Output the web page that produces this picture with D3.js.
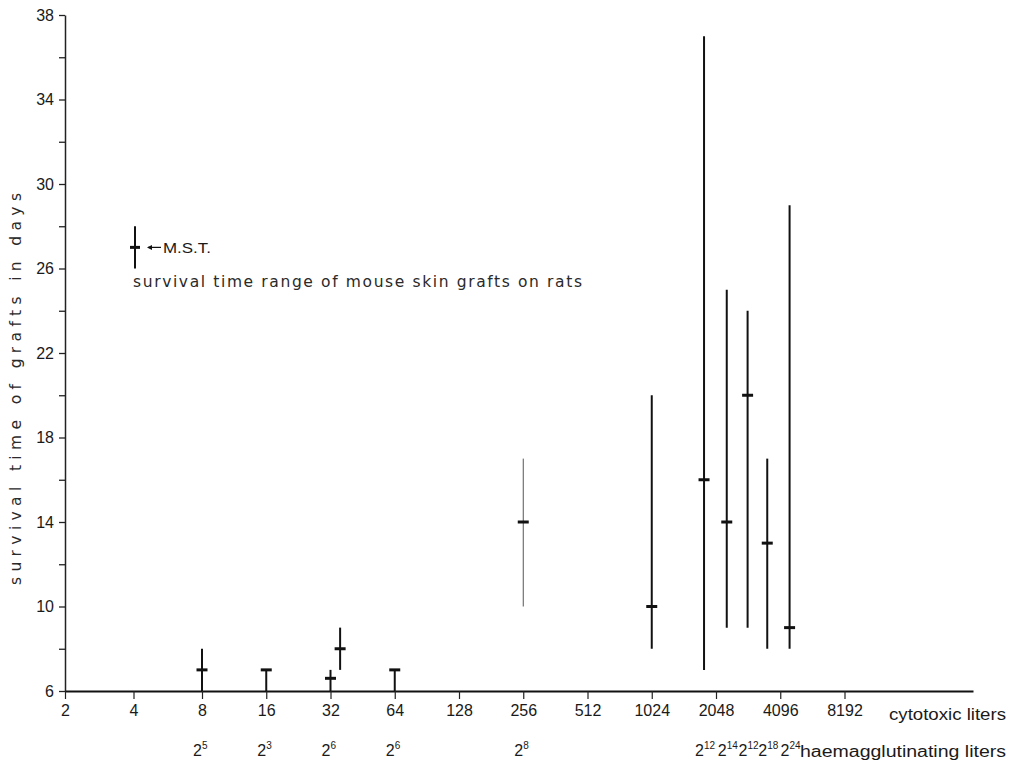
<!DOCTYPE html>
<html>
<head>
<meta charset="utf-8">
<script src="https://cdn.jsdelivr.net/npm/d3@7"></script>
<style>
  body { margin: 0; background: white; }
  text { font-family: "Liberation Sans", Arial, sans-serif; fill: #1a1a1a; }
  .words { font-family: "DejaVu Sans", sans-serif; fill: #2a2a2a; }
</style>
</head>
<body>
<script>
// cytotoxic titer ticks (x axis, log2)
var cytoTicks = [2, 4, 8, 16, 32, 64, 128, 256, 512, 1024, 2048, 4096, 8192];
// y ticks
var dayTicks = [6, 8, 10, 12, 14, 16, 18, 20, 22, 24, 26, 28, 30, 32, 34, 36, 38];

// one entry per group of grafts
var titers = [8, 16, 32, 35.5, 64, 256, 1024, 1800, 2300, 2880, 3560, 4530];
var mst    = [7, 7, 6.6, 8, 7, 14, 10, 16, 14, 20, 13, 9];
var lowDays  = [6, 6, 6, 7, 6, 10, 8, 7, 9, 9, 8, 8];
var highDays = [8, 7, 7, 9, 7, 17, 20, 37, 25, 24, 17, 29];

// haemagglutinating titers (written as powers of 2)
var haemTiters = [8, 16, 32, 64, 256, 1800, 2300, 2880, 3560, 4530];
var haemExp    = [5, 3, 6, 6, 8, 12, 14, 12, 18, 24];

var width = 1016, height = 765;

var svg = d3.select('body').append('svg')
  .attr('width', width)
  .attr('height', height)
  .style('background', 'white');

// Scales (hand drawn axis: first two octaves are a bit narrower)
var xScale = d3.scaleLog().base(2)
  .domain([2, 8, 32768])
  .range([65, 202, 973]);

var yScale = d3.scaleLinear()
  .domain([6, 38])
  .range([691, 15]);

// Y axis
var yAxis = svg.append('g')
  .attr('transform', 'translate(65,0)')
  .call(d3.axisLeft(yScale)
    .tickValues(dayTicks)
    .tickSize(6)
    .tickSizeOuter(0)
    .tickPadding(5)
    .tickFormat(function(d) { return (d - 6) % 4 === 0 ? d : ''; }));
yAxis.select('.domain').attr('stroke', '#222').attr('stroke-width', 1.5);
yAxis.selectAll('.tick line').attr('stroke', '#222').attr('stroke-width', 1.3);
yAxis.selectAll('.tick text').style('font-size', '16px').attr('fill', '#1a1a1a');

// X axis
var xAxis = svg.append('g')
  .attr('transform', 'translate(0,691)')
  .call(d3.axisBottom(xScale)
    .tickValues(cytoTicks)
    .tickSize(8)
    .tickSizeOuter(0)
    .tickPadding(6)
    .tickFormat(function(d) { return d; }));
xAxis.select('.domain').attr('stroke', '#111').attr('stroke-width', 2);
xAxis.selectAll('.tick line').attr('stroke', '#222').attr('stroke-width', 1.2);
xAxis.selectAll('.tick text').style('font-size', '16px').attr('fill', '#1a1a1a');

svg.append('text')
  .attr('x', 889).attr('y', 720)
  .attr('textLength', 117).attr('lengthAdjust', 'spacingAndGlyphs')
  .style('font-size', '16px')
  .text('cytotoxic liters');

// Y label
svg.append('text')
  .attr('class', 'words')
  .attr('transform', 'translate(21,389) rotate(-90)')
  .attr('text-anchor', 'middle')
  .attr('textLength', 392).attr('lengthAdjust', 'spacing')
  .style('font-size', '15.5px')
  .text('survival time of grafts in days');

// Haemagglutinating titers row
var haem = svg.selectAll('.haem')
  .data(haemTiters)
  .enter()
  .append('text')
  .attr('class', 'haem')
  .attr('x', function(d) { return xScale(d) - 9; })
  .attr('y', 756)
  .style('font-size', '16px');
haem.append('tspan').text('2');
haem.append('tspan')
  .attr('dy', -7)
  .style('font-size', '10px')
  .text(function(d, i) { return haemExp[i]; });

svg.append('text')
  .attr('x', 800).attr('y', 757)
  .attr('textLength', 206).attr('lengthAdjust', 'spacingAndGlyphs')
  .style('font-size', '16px')
  .text('haemagglutinating liters');

// Range lines
svg.selectAll('.range')
  .data(titers)
  .enter()
  .append('line')
  .attr('class', 'range')
  .attr('x1', function(d) { return xScale(d); })
  .attr('x2', function(d) { return xScale(d); })
  .attr('y1', function(d, i) { return yScale(lowDays[i]); })
  .attr('y2', function(d, i) { return yScale(highDays[i]); })
  .attr('stroke', function(d) { return d === 256 ? '#555' : '#111'; })
  .attr('stroke-width', function(d) { return d === 256 ? 1 : 2; });

// MST markers
svg.selectAll('.mst')
  .data(titers)
  .enter()
  .append('line')
  .attr('class', 'mst')
  .attr('x1', function(d) { return xScale(d) - 5.5; })
  .attr('x2', function(d) { return xScale(d) + 5.5; })
  .attr('y1', function(d, i) { return yScale(mst[i]); })
  .attr('y2', function(d, i) { return yScale(mst[i]); })
  .attr('stroke', '#111')
  .attr('stroke-width', 3);

// Handmade legend
var legX = 135;
svg.append('line')
  .attr('x1', legX).attr('x2', legX)
  .attr('y1', yScale(28)).attr('y2', yScale(26))
  .attr('stroke', '#111').attr('stroke-width', 2);
svg.append('line')
  .attr('x1', legX - 5).attr('x2', legX + 5)
  .attr('y1', yScale(27)).attr('y2', yScale(27))
  .attr('stroke', '#111').attr('stroke-width', 3);
svg.append('line')
  .attr('x1', 148).attr('x2', 161)
  .attr('y1', yScale(27)).attr('y2', yScale(27))
  .attr('stroke', '#111').attr('stroke-width', 1.2);
svg.append('path')
  .attr('d', 'M147,' + yScale(27) + ' l5,-2.5 l0,5 z')
  .attr('fill', '#111');
svg.append('text')
  .attr('x', 163).attr('y', 253)
  .attr('textLength', 48).attr('lengthAdjust', 'spacingAndGlyphs')
  .style('font-size', '15px')
  .text('M.S.T.');
svg.append('text')
  .attr('class', 'words')
  .attr('x', 133).attr('y', 287)
  .attr('textLength', 449).attr('lengthAdjust', 'spacing')
  .style('font-size', '15.5px')
  .text('survival time range of mouse skin grafts on rats');
</script>
</body>
</html>
